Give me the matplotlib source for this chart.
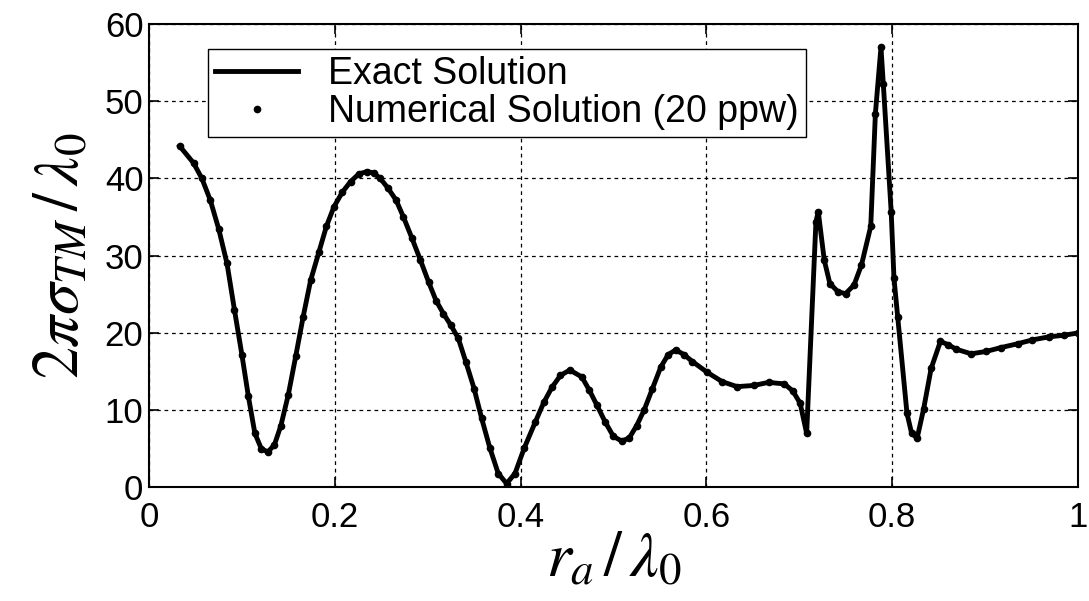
import numpy as np
import matplotlib
matplotlib.use('Agg')
import matplotlib.pyplot as plt

# r_a / lambda_0 and 2*pi*sigma_TM / lambda_0
r = [0.033, 0.048, 0.057, 0.066, 0.075, 0.084, 0.092, 0.100, 0.107, 0.114,
     0.121, 0.128, 0.135, 0.142, 0.150, 0.158, 0.166, 0.174, 0.183, 0.191,
     0.199, 0.208, 0.217, 0.226, 0.235, 0.242, 0.249, 0.257, 0.266, 0.274,
     0.283, 0.292, 0.301, 0.309, 0.317, 0.325, 0.333, 0.341, 0.350, 0.358,
     0.367, 0.376, 0.385, 0.394, 0.404, 0.416, 0.425, 0.434, 0.443, 0.453,
     0.466, 0.474, 0.482, 0.491, 0.500, 0.509, 0.517, 0.525, 0.533, 0.542,
     0.551, 0.559, 0.567, 0.576, 0.585, 0.601, 0.617, 0.633, 0.651, 0.667,
     0.684, 0.693, 0.701, 0.708, 0.718, 0.7205, 0.727, 0.733, 0.742, 0.750,
     0.759, 0.767, 0.777, 0.782, 0.788, 0.7905, 0.799, 0.802, 0.806, 0.816,
     0.821, 0.827, 0.834, 0.842, 0.852, 0.860, 0.869, 0.885, 0.901, 0.917,
     0.935, 0.951, 0.969, 0.985, 1.000]
sigma = [44.2, 42.0, 40.0, 37.2, 33.5, 29.0, 23.0, 17.2, 11.8, 7.0,
         5.0, 4.6, 5.5, 8.0, 12.0, 17.0, 22.1, 26.8, 30.5, 33.8,
         36.3, 38.2, 39.6, 40.6, 40.9, 40.7, 40.0, 38.8, 37.2, 35.0,
         32.3, 29.5, 26.6, 24.2, 22.5, 21.0, 19.3, 16.3, 12.8, 9.0,
         5.1, 1.8, 0.5, 1.8, 5.1, 8.5, 11.0, 13.0, 14.5, 15.2,
         14.3, 12.6, 10.7, 8.5, 6.6, 6.0, 6.4, 8.0, 10.0, 12.8,
         15.6, 17.2, 17.8, 17.2, 16.3, 14.9, 13.7, 13.05, 13.2, 13.6,
         13.4, 12.5, 10.9, 7.0, 34.4, 35.7, 29.4, 26.4, 25.3, 25.1,
         26.2, 28.8, 33.8, 48.4, 57.0, 52.3, 35.7, 27.1, 22.1, 9.6,
         7.0, 6.4, 10.2, 15.4, 18.9, 18.5, 17.9, 17.3, 17.6, 18.1,
         18.6, 19.1, 19.5, 19.7, 20.0]

xticks = [0, 0.2, 0.4, 0.6, 0.8, 1]
xticklabels = ['0', '0.2', '0.4', '0.6', '0.8', '1']
yticks = [0, 10, 20, 30, 40, 50, 60]

plt.rcParams['font.family'] = ['Liberation Sans', 'DejaVu Sans']
plt.rcParams['mathtext.fontset'] = 'stix'

fig = plt.figure(figsize=(10.89, 6.01), dpi=100)
ax = fig.add_axes([0.1368, 0.189, 0.853, 0.771])

ax.plot(r, sigma, color='k', linewidth=3.5, label='Exact Solution')
ax.plot(r, sigma, linestyle='none', marker='o', markersize=4.5, color='k',
        label='Numerical Solution (20 ppw)')

ax.set_xlim(0, 1)
ax.set_ylim(0, 60)
ax.set_xticks(xticks)
ax.set_xticklabels(xticklabels)
ax.set_yticks(yticks)
ax.grid(True, color='k', linestyle=(0, (3, 3)), linewidth=0.9)
ax.tick_params(axis='both', direction='in', length=7, width=1.2,
               top=True, right=True, labelsize=25)
ax.tick_params(axis='x', pad=10)
ax.tick_params(axis='y', pad=4)
for s in ax.spines.values():
    s.set_linewidth(1.5)

ax.set_xlabel(r'$r_a\,/\,\lambda_0$', fontsize=46, labelpad=-4)
ax.set_ylabel(r'$2\pi\sigma_{TM}\,/\,\lambda_0$', fontsize=46, labelpad=10)

leg = ax.legend(loc='upper left', bbox_to_anchor=(0.0635, 0.947),
                borderaxespad=0, fontsize=27, fancybox=False, framealpha=1,
                edgecolor='k', handlelength=2.2, borderpad=0.2,
                labelspacing=0.05, handletextpad=0.8)
leg.get_frame().set_linewidth(1.0)

fig.savefig('out.png', dpi=100)
